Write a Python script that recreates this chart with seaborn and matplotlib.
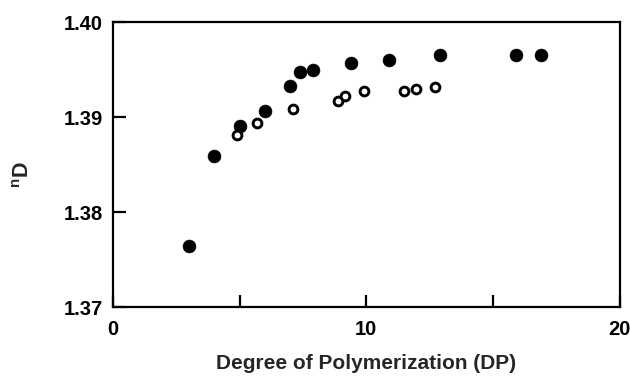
import matplotlib
matplotlib.use("Agg")
import matplotlib.pyplot as plt
import seaborn as sns
import pandas as pd
from matplotlib.ticker import MultipleLocator, FormatStrFormatter

sns.set_theme(style="ticks")
plt.rcParams['font.family'] = ['Liberation Sans', 'DejaVu Sans']
plt.rcParams['mathtext.fontset'] = 'custom'
plt.rcParams['mathtext.bf'] = 'Liberation Sans:bold'
plt.rcParams['mathtext.rm'] = 'Liberation Sans'

# Filled circles
dp_filled = [3, 4, 5, 6, 7, 7.4, 7.9, 9.4, 10.9, 12.9, 15.9, 16.9]
nd_filled = [1.3764, 1.3859, 1.3891, 1.3906, 1.3933, 1.3947, 1.3949,
             1.3957, 1.3960, 1.3965, 1.3965, 1.3965]
# Open circles
dp_open = [4.9, 5.7, 7.1, 8.9, 9.15, 9.9, 11.5, 11.95, 12.7]
nd_open = [1.3881, 1.3894, 1.3908, 1.3917, 1.3922, 1.3927, 1.3927,
           1.3930, 1.3932]

df_f = pd.DataFrame({"DP": dp_filled, "nD": nd_filled})
df_o = pd.DataFrame({"DP": dp_open, "nD": nd_open})

fig = plt.figure(figsize=(6.3, 3.8), dpi=100)
ax = fig.add_axes([0.179, 0.192, 0.805, 0.750])

sns.scatterplot(data=df_f, x="DP", y="nD", ax=ax, s=85, color="black",
                edgecolor="black", linewidth=0.5, zorder=3)
sns.scatterplot(data=df_o, x="DP", y="nD", ax=ax, s=40, facecolor="white",
                edgecolor="black", linewidth=2.1, zorder=4)

ax.set_xlim(0, 20)
ax.set_ylim(1.37, 1.40)
ax.xaxis.set_major_locator(MultipleLocator(10))
ax.xaxis.set_minor_locator(MultipleLocator(5))
ax.yaxis.set_major_locator(MultipleLocator(0.01))
ax.yaxis.set_major_formatter(FormatStrFormatter('%.2f'))

for sp in ax.spines.values():
    sp.set_linewidth(1.6)
    sp.set_color("black")

ax.tick_params(axis='both', which='both', direction='in', width=1.6,
               length=9, top=False, right=False, labelsize=14.5, colors='black')
ax.tick_params(axis='x', which='major', pad=9)
ax.tick_params(axis='y', which='major', pad=7)
for lab in ax.get_xticklabels() + ax.get_yticklabels():
    lab.set_fontweight('bold')

ax.set_xlabel("Degree of Polymerization (DP)", fontsize=15,
              fontweight='bold')
ax.xaxis.set_label_coords(0.5, -0.165)
ax.set_ylabel(r"$\mathbf{{}^{n}D}$", fontsize=15.5)
ax.yaxis.set_label_coords(-0.155, 0.463)

fig.savefig("out.png", dpi=100)
